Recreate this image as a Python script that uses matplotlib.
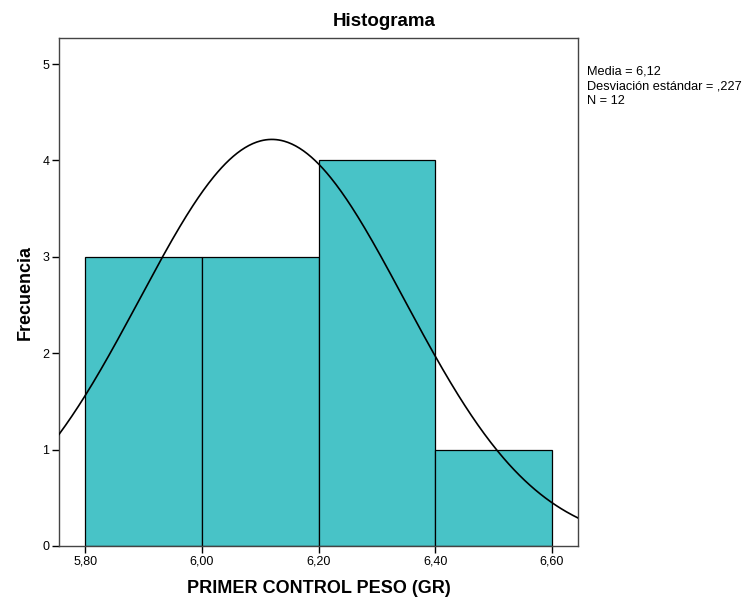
import numpy as np
import matplotlib
matplotlib.use("Agg")
import matplotlib.pyplot as plt

plt.rcParams['font.family'] = ['Liberation Sans', 'DejaVu Sans']

# histogram bins and counts
bin_edges = [5.80, 6.00, 6.20, 6.40, 6.60]
counts = [3, 3, 4, 1]
x_ticks = [5.80, 6.00, 6.20, 6.40, 6.60]
x_tick_labels = ["5,80", "6,00", "6,20", "6,40", "6,60"]
y_ticks = [0, 1, 2, 3, 4, 5]
stats_lines = ["Media = 6,12", "Desviación estándar = ,227", "N = 12"]

media = 6.12
desv = 0.227
n = 12
bin_width = 0.2

fig = plt.figure(figsize=(7.53, 6.01), dpi=100)
ax = fig.add_axes([59/753, 55/601, 519/753, 508/601])

ax.bar(bin_edges[:-1], counts, width=bin_width, align='edge',
       color='#48c3c7', edgecolor='black', linewidth=0.9, zorder=2)

## normal curve scaled to the counts
xs = np.linspace(5.755, 6.645, 400)
ys = n * bin_width / (desv * np.sqrt(2 * np.pi)) * np.exp(-0.5 * ((xs - media) / desv) ** 2)
ax.plot(xs, ys, color='black', linewidth=1.2, zorder=3)

ax.set_xlim(5.755, 6.645)
ax.set_ylim(0, 5.27)
ax.set_xticks(x_ticks)
ax.set_xticklabels(x_tick_labels)
ax.set_yticks(y_ticks)
ax.tick_params(axis='both', labelsize=9, length=5, width=1, direction='out', pad=2)
for s in ax.spines.values():
    s.set_linewidth(1.0)
    s.set_color('#444444')

## SPSS centres the title over the whole chart
fig.text(384/753, 1 - 22/601, "Histograma", fontsize=13.5, fontweight='bold',
         ha='center', va='center')
ax.set_xlabel("PRIMER CONTROL PESO (GR)", fontsize=13, fontweight='bold', labelpad=9)
ax.set_ylabel("Frecuencia", fontsize=13, fontweight='bold', labelpad=6)

## stats box, one line at a time
for i, line in enumerate(stats_lines):
    fig.text(587/753, 1 - (72 + 14.5 * i)/601, line, fontsize=9.2,
             va='center', ha='left')

fig.savefig("out.png", dpi=100)
